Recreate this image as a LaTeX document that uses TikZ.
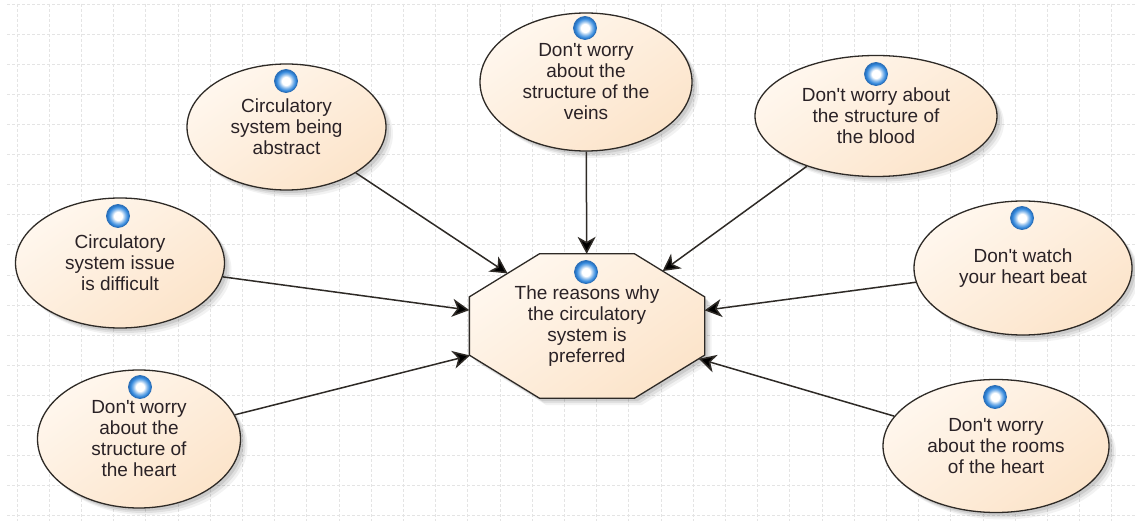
\documentclass[tikz,border=0pt]{standalone}
\usepackage{fontspec}
\setmainfont{Liberation Sans}
\usetikzlibrary{shapes.geometric,arrows.meta,shadows}
\definecolor{gridc}{HTML}{E4E4E4}
\definecolor{nodedge}{HTML}{2E2A26}
\definecolor{peachA}{HTML}{FFF7EE}
\definecolor{peachB}{HTML}{FCE4CA}
\definecolor{ballc}{HTML}{2F86DC}
\definecolor{balle}{HTML}{2B6FB8}
\definecolor{txtc}{HTML}{2A2226}
\pgfdeclareradialshading{orbshade}{\pgfpoint{0bp}{0bp}}{color(0bp)=(white); color(9bp)=(white); color(15bp)=(ballc!55!white); color(21bp)=(ballc); color(25bp)=(balle); color(50bp)=(balle)}
\makeatletter
\pgfdeclareshape{octagonbox}{%
  \inheritsavedanchors[from=rectangle]%
  \inheritanchor[from=rectangle]{center}%
  \inheritanchor[from=rectangle]{text}%
  \backgroundpath{%
    \southwest \pgf@xa=\pgf@x \pgf@ya=\pgf@y
    \northeast \pgf@xb=\pgf@x \pgf@yb=\pgf@y
    \pgf@xc=70pt \pgf@yc=43pt
    \pgfpathmoveto{\pgfqpoint{\pgf@xa}{\dimexpr\pgf@ya+\pgf@yc}}%
    \pgfpathlineto{\pgfqpoint{\dimexpr\pgf@xa+\pgf@xc}{\pgf@ya}}%
    \pgfpathlineto{\pgfqpoint{\dimexpr\pgf@xb-\pgf@xc}{\pgf@ya}}%
    \pgfpathlineto{\pgfqpoint{\pgf@xb}{\dimexpr\pgf@ya+\pgf@yc}}%
    \pgfpathlineto{\pgfqpoint{\pgf@xb}{\dimexpr\pgf@yb-\pgf@yc}}%
    \pgfpathlineto{\pgfqpoint{\dimexpr\pgf@xb-\pgf@xc}{\pgf@yb}}%
    \pgfpathlineto{\pgfqpoint{\dimexpr\pgf@xa+\pgf@xc}{\pgf@yb}}%
    \pgfpathlineto{\pgfqpoint{\pgf@xa}{\dimexpr\pgf@yb-\pgf@yc}}%
    \pgfpathclose
  }%
  \anchorborder{%
    \edef\octdx{\pgf@sys@tonumber{\pgf@x}}%
    \edef\octdy{\pgf@sys@tonumber{\pgf@y}}%
    \southwest \pgf@xa=\pgf@x \pgf@ya=\pgf@y
    \northeast
    \advance\pgf@x by-\pgf@xa \advance\pgf@y by-\pgf@ya
    \pgf@xc=.5\pgf@x \pgf@yc=.5\pgf@y
    \advance\pgf@xa by\pgf@xc \advance\pgf@ya by\pgf@yc
    \edef\octW{\pgf@sys@tonumber{\pgf@xc}}%
    \edef\octH{\pgf@sys@tonumber{\pgf@yc}}%
    \edef\octcx{\the\pgf@xa}\edef\octcy{\the\pgf@ya}%
    \pgfmathsetmacro\octk{\octW/70+\octH/43-1}%
    \pgfmathsetmacro\octs{max(max(abs(\octdx)/\octW,abs(\octdy)/\octH),(abs(\octdx)/70+abs(\octdy)/43)/\octk)}%
    \pgfmathsetlength\pgf@xb{\octdx/\octs}%
    \pgfmathsetlength\pgf@yb{\octdy/\octs}%
    \pgf@x=\dimexpr\pgf@xb+\octcx\relax
    \pgf@y=\dimexpr\pgf@yb+\octcy\relax
  }%
}
\makeatother
\newcommand{\apos}{\textquotesingle}
\tikzset{
  x=1pt,y=-1pt,
  softshadow/.style={general shadow={shadow xshift=7pt,shadow yshift=-7pt,fill=black,opacity=.05},
    general shadow={shadow xshift=5pt,shadow yshift=-5pt,fill=black,opacity=.07},
    general shadow={shadow xshift=3pt,shadow yshift=-3pt,fill=black,opacity=.09}},
  peachfill/.style={top color=peachA,bottom color=peachB,shading angle=35},
  ell/.style={ellipse,draw=nodedge,line width=1.3pt,inner sep=0pt,softshadow,peachfill,
    align=center,text=txtc,font=\fontsize{19}{21}\selectfont},
  octa/.style={octagonbox,minimum width=234pt,minimum height=143pt,inner sep=0pt,draw=nodedge,line width=1.3pt,softshadow,peachfill,
    align=center,text=txtc,font=\fontsize{19}{21}\selectfont},
  ball/.style={circle,minimum size=23pt,inner sep=0pt,draw=balle,line width=.8pt,shading=orbshade},
  conn/.style={draw=nodedge,line width=1.5pt,-{Stealth[length=17pt,width=18pt,inset=5pt,fill=black]}},
  gridl/.style={draw=gridc,line width=.7pt,densely dashed}
}
\begin{document}
\begin{tikzpicture}
\useasboundingbox (0,0) rectangle (1135,521);
\fill[white] (0,0) rectangle (1135,521);
\foreach \k in {0,...,34} \draw[gridl] ({17+32.2*\k},4) -- ({17+32.2*\k},521);
\foreach \k in {0,...,17} \draw[gridl] (7,{4+30.1*\k}) -- (1135,{4+30.1*\k});
\node[octa] (oct) at (587,326) {The reasons why\\the circulatory\\system is\\preferred};
\node[ell,minimum width=199pt,minimum height=126pt] (abs) at (286.5,127) {Circulatory\\system being\\abstract};
\node[ell,minimum width=212pt,minimum height=138pt] (veins) at (586,82) {Don\apos t worry\\about the\\structure of the\\veins};
\node[ell,minimum width=242pt,minimum height=121pt] (blood) at (876,116) {Don\apos t worry about\\the structure of\\the blood};
\node[ell,minimum width=218pt,minimum height=134pt] (beat) at (1023,268) {Don\apos t watch\\your heart beat};
\node[ell,minimum width=226pt,minimum height=133pt] (rooms) at (996,446) {Don\apos t worry\\about the rooms\\of the heart};
\node[ell,minimum width=209pt,minimum height=130pt] (diff) at (120,263) {Circulatory\\system issue\\is difficult};
\node[ell,minimum width=203pt,minimum height=138pt] (heart) at (139,439) {Don\apos t worry\\about the\\structure of\\the heart};
\node[ball] (b0) at (586,272) {};
\node[ball] (b1) at (286,81) {};
\node[ball] (b2) at (585,28) {};
\node[ball] (b3) at (876,74) {};
\node[ball] (b4) at (1022,218) {};
\node[ball] (b5) at (995,397) {};
\node[ball] (b6) at (118,216) {};
\node[ball] (b7) at (140,387) {};
\draw[conn] (abs) -- (oct);
\draw[conn] (veins) -- (oct);
\draw[conn] (blood) -- (oct);
\draw[conn] (beat) -- (oct);
\draw[conn] (rooms) -- (oct);
\draw[conn] (diff) -- (oct);
\draw[conn] (heart) -- (oct);
\end{tikzpicture}
\end{document}
